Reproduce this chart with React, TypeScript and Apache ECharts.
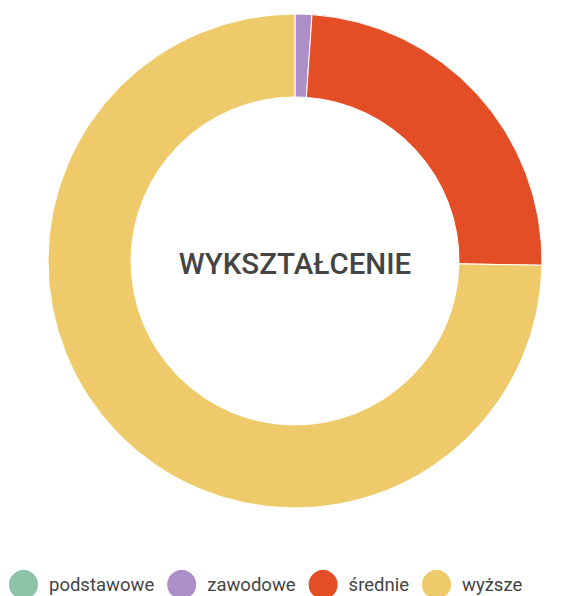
import React, { useEffect, useRef } from "react";
import * as echarts from "echarts";

const categories = ["podstawowe", "zawodowe", "średnie", "wyższe"];
const values = [0, 1, 22, 68];
const colors = ["#8DC3A7", "#AD8FC8", "#E44E26", "#EFCA6A"];
const centerLabel = "WYKSZTAŁCENIE";

export default function App() {
  const ref = useRef<HTMLDivElement>(null);
  useEffect(() => {
    if (!ref.current) return;
    const chart = echarts.init(ref.current, undefined, { renderer: "svg" });
    chart.setOption({
      animation: false,
      color: colors,
      legend: {
        data: categories,
        top: 568,
        left: 7,
        padding: 0,
        icon: "circle",
        itemWidth: 31,
        itemHeight: 31,
        itemGap: 11,
        textStyle: {
          fontFamily: "Roboto",
          fontSize: 18.5,
          color: "#444",
          padding: [0, 0, 0, 5],
        },
      },
      graphic: [
        {
          type: "text",
          x: 295,
          y: 264,
          style: {
            text: centerLabel,
            fontFamily: "Roboto",
            fontWeight: 500,
            fontSize: 29.5,
            fill: "#444",
            textAlign: "center",
            textVerticalAlign: "middle",
          },
        },
      ],
      series: [
        {
          type: "pie",
          center: [295, 261],
          radius: [164, 247],
          startAngle: 90,
          clockwise: true,
          label: { show: false },
          labelLine: { show: false },
          emphasis: { disabled: true },
          itemStyle: { borderColor: "#fff", borderWidth: 1 },
          data: categories.map((name, i) => ({ name, value: values[i] })),
        },
      ],
    });
    return () => chart.dispose();
  }, []);
  return (
    <div
      ref={ref}
      style={{ position: "absolute", left: 0, top: 0, width: 563, height: 596 }}
    />
  );
}
